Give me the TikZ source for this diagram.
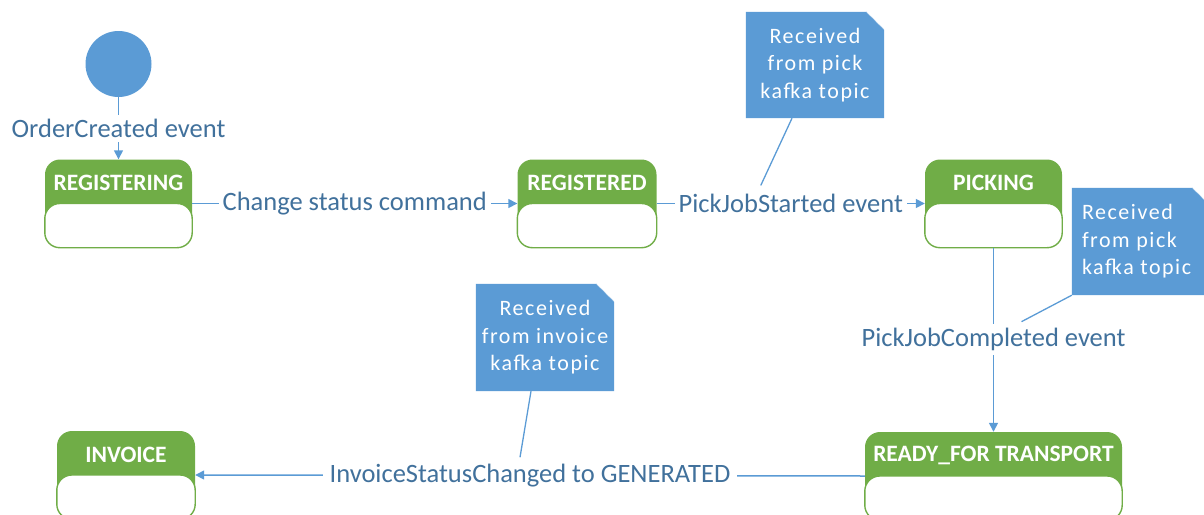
\documentclass[tikz,border=0pt]{standalone}
\usepackage{fontspec}
\setmainfont{Carlito}
\usetikzlibrary{arrows.meta,calc}

\definecolor{stategreen}{HTML}{70AD47}
\definecolor{accentblue}{HTML}{5B9BD5}
\definecolor{labelblue}{HTML}{41719C}

\tikzset{
  stateframe/.style={rectangle, rounded corners=15pt, fill=stategreen,
    minimum height=88pt, inner sep=0pt},
  statebody/.style={rounded corners=15pt, fill=white, draw=stategreen, line width=1.4pt},
  statetitle/.style={text=white, font=\fontsize{23.5}{27}\selectfont\bfseries, inner sep=0pt},
  initstate/.style={circle, fill=accentblue, minimum size=66pt, inner sep=0pt},
  conn/.style={draw=accentblue, line width=1.5pt, -{Triangle[length=9pt,width=9pt]}},
  plainconn/.style={draw=accentblue, line width=1.3pt},
  evlabel/.style={fill=white, text=labelblue, inner sep=4pt,
    font=\fontsize{26.5}{30}\selectfont},
  notebox/.style={rectangle, inner sep=0pt, minimum width=138pt},
  notetext/.style={text=white, inner sep=0pt,
    font=\fontsize{22}{27.5}\selectfont\addfontfeature{LetterSpace=7}},
}

% a state: green header with a white, green-rimmed compartment below
\newcommand\statenode[5]{% name, x, y, width, title
  \node[stateframe, minimum width=#4pt] (#1) at (#2,#3) {};
  \draw[statebody] (#1.west) rectangle (#1.south east);
  \node[statetitle] (#1-title) at ($(#1.north)!0.54!(#1.center)$) {#5};
}

% a note with a folded top-right corner
\newcommand\notenode[4]{% name, x, y, height
  \node[notebox, minimum height=#4pt] (#1) at (#2,#3) {};
  \fill[accentblue] (#1.south west) -- (#1.north west) -- ([xshift=-18pt]#1.north east)
    -- ([yshift=-18pt]#1.north east) -- (#1.south east) -- cycle;
  \draw[accentblue!45, line width=0.6pt, densely dotted]
    ([xshift=-18pt]#1.north east) -- ([yshift=-18pt]#1.north east);
}

\begin{document}
\begin{tikzpicture}[x=1pt, y=-1pt]
  \useasboundingbox (0,0) rectangle (1204,514);
  \clip (0,0) rectangle (1204,514);

  % states
  \node[initstate] (init) at (118.5,64) {};
  \statenode{registering}{118.5}{203.5}{147}{REGISTERING}
  \statenode{registered}{587}{203.5}{139}{REGISTERED}
  \statenode{picking}{993.5}{203.5}{137}{PICKING}
  \statenode{ready}{993.5}{476}{257}{READY\_FOR TRANSPORT}
  \statenode{invoice}{126}{475}{138}{INVOICE}

  % transitions
  \draw[conn] (init) -- node[evlabel] (lcreated) {OrderCreated event} (registering.north);
  \draw[conn] (registering.east) -- node[evlabel] (lchange) {Change status command} (registered.west);
  \draw[conn] (registered.east) -- node[evlabel] (lstarted) {PickJobStarted event} (picking.west);
  \draw[conn] (picking.south) -- node[evlabel] (lcompleted) {PickJobCompleted event} (ready.north);
  \draw[conn] (ready.west) -- node[evlabel, inner xsep=7pt] (lgenerated) {InvoiceStatusChanged to GENERATED} (invoice.east);

  % notes
  \notenode{npick}{815}{65}{106}
  \node[notetext, align=center] (npick-text) at (npick.center) {Received\\from pick\\kafka topic};
  \notenode{npickdone}{1141}{241.5}{107}
  \node[notetext, align=left, anchor=west] (npickdone-text) at ([xshift=10pt]npickdone.west) {Received\\from pick\\kafka topic};
  \notenode{ninvoice}{545}{337.5}{107}
  \node[notetext, align=center] (ninvoice-text) at (ninvoice.center) {Received\\from invoice\\kafka topic};

  % note anchors
  \draw[plainconn] ([xshift=-23pt]npick.south) -- ([xshift=-30pt,yshift=4pt]lstarted.north);
  \draw[plainconn] (npickdone.south west) -- ([xshift=28pt,yshift=2pt]lcompleted.north);
  \draw[plainconn] ([xshift=-14pt]ninvoice.south) -- ([xshift=-10pt,yshift=2pt]lgenerated.north);
\end{tikzpicture}
\end{document}
